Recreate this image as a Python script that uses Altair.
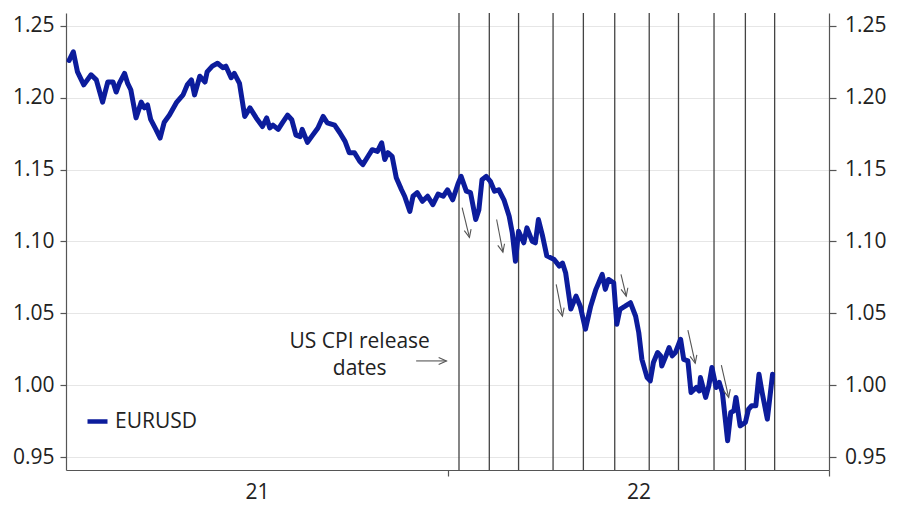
import altair as alt
import pandas as pd

# ---------------- data ----------------
dates = [
    "2021-01-04", "2021-01-08", "2021-01-12", "2021-01-18", "2021-01-25", "2021-01-30",
    "2021-02-05", "2021-02-10", "2021-02-15", "2021-02-18", "2021-02-21", "2021-02-26",
    "2021-03-01", "2021-03-04", "2021-03-09", "2021-03-14", "2021-03-17", "2021-03-20",
    "2021-03-23", "2021-03-28", "2021-04-01", "2021-04-05", "2021-04-10", "2021-04-17",
    "2021-04-23", "2021-04-27", "2021-05-01", "2021-05-04", "2021-05-09", "2021-05-14",
    "2021-05-16", "2021-05-21", "2021-05-26", "2021-05-31", "2021-06-03", "2021-06-08",
    "2021-06-11", "2021-06-16", "2021-06-21", "2021-06-26", "2021-07-02", "2021-07-08",
    "2021-07-12", "2021-07-15", "2021-07-18", "2021-07-23", "2021-07-27", "2021-08-01",
    "2021-08-05", "2021-08-09", "2021-08-13", "2021-08-15", "2021-08-20", "2021-08-25",
    "2021-08-30", "2021-09-04", "2021-09-08", "2021-09-15", "2021-09-20", "2021-09-25",
    "2021-09-29", "2021-10-04", "2021-10-09", "2021-10-12", "2021-10-17", "2021-10-21",
    "2021-10-26", "2021-10-30", "2021-11-02", "2021-11-05", "2021-11-09", "2021-11-13",
    "2021-11-18", "2021-11-21", "2021-11-26", "2021-11-29", "2021-12-03", "2021-12-08",
    "2021-12-13", "2021-12-18", "2021-12-23", "2021-12-28", "2022-01-01", "2022-01-06",
    "2022-01-11", "2022-01-14", "2022-01-19", "2022-01-23", "2022-01-28", "2022-01-31",
    "2022-02-03", "2022-02-07", "2022-02-11", "2022-02-15", "2022-02-19", "2022-02-24",
    "2022-03-01", "2022-03-04", "2022-03-07", "2022-03-10", "2022-03-15", "2022-03-18",
    "2022-03-23", "2022-03-26", "2022-03-29", "2022-04-02", "2022-04-06", "2022-04-13",
    "2022-04-18", "2022-04-21", "2022-04-24", "2022-04-29", "2022-05-04", "2022-05-08",
    "2022-05-13", "2022-05-18", "2022-05-23", "2022-05-29", "2022-06-01", "2022-06-04",
    "2022-06-09", "2022-06-12", "2022-06-15", "2022-06-20", "2022-06-25", "2022-06-30",
    "2022-07-03", "2022-07-06", "2022-07-11", "2022-07-14", "2022-07-17", "2022-07-21",
    "2022-07-24", "2022-07-25", "2022-07-29", "2022-08-01", "2022-08-04", "2022-08-07",
    "2022-08-12", "2022-08-15", "2022-08-19", "2022-08-22", "2022-08-27", "2022-08-30",
    "2022-08-31", "2022-09-05", "2022-09-08", "2022-09-11", "2022-09-15", "2022-09-18",
    "2022-09-21", "2022-09-26", "2022-09-29", "2022-10-02", "2022-10-04", "2022-10-08",
    "2022-10-13", "2022-10-16", "2022-10-19", "2022-10-23", "2022-10-26", "2022-10-29",
    "2022-11-03", "2022-11-08",
]
eurusd = [
    1.226, 1.232, 1.218, 1.209, 1.216, 1.2125,
    1.197, 1.211, 1.211, 1.204, 1.210, 1.217,
    1.210, 1.2056, 1.186, 1.197, 1.193, 1.195,
    1.185, 1.178, 1.172, 1.183, 1.188, 1.197,
    1.202, 1.209, 1.2125, 1.202, 1.215, 1.211,
    1.218, 1.222, 1.224, 1.221, 1.222, 1.214,
    1.217, 1.210, 1.187, 1.193, 1.186, 1.180,
    1.186, 1.179, 1.181, 1.178, 1.1826, 1.188,
    1.1847, 1.174, 1.173, 1.178, 1.169, 1.174,
    1.179, 1.187, 1.1826, 1.181, 1.1757, 1.1697,
    1.1618, 1.1618, 1.1558, 1.1535, 1.1593, 1.1639,
    1.1627, 1.1687, 1.157, 1.1618, 1.1593, 1.1444,
    1.136, 1.1315, 1.121, 1.1315, 1.134, 1.128,
    1.1315, 1.1257, 1.133, 1.1315, 1.136, 1.129,
    1.140, 1.1453, 1.135, 1.134, 1.1153, 1.122,
    1.143, 1.1453, 1.1419, 1.135, 1.136, 1.129,
    1.1176, 1.106, 1.0863, 1.1072, 1.0991, 1.1095,
    1.1002, 1.0991, 1.1153, 1.1037, 1.090, 1.0875,
    1.0829, 1.085, 1.0783, 1.053, 1.062, 1.055,
    1.039, 1.055, 1.0667, 1.0771, 1.0667, 1.0736,
    1.0713, 1.0424, 1.0528, 1.055, 1.0574, 1.048,
    1.0366, 1.018, 1.0053, 1.003, 1.0158, 1.0227,
    1.0204, 1.0134, 1.0204, 1.0262, 1.0204, 1.0227,
    1.032, 1.018, 1.0169, 0.995, 0.9984, 0.996,
    1.0053, 0.9915, 0.9995, 1.0123, 0.9984, 1.0019,
    0.995, 0.9613, 0.981, 0.9822, 0.9915, 0.9717,
    0.9741, 0.9833, 0.9857, 0.9857, 1.0076, 0.995,
    0.9764, 1.0076,
]
series_name = "EURUSD"

cpi_dates = ["2022-01-12", "2022-02-10", "2022-03-10", "2022-04-12", "2022-05-11",
             "2022-06-10", "2022-07-13", "2022-08-10", "2022-09-13", "2022-10-13",
             "2022-11-10"]

arrow_start_dates = ["2022-01-15", "2022-02-17", "2022-04-15", "2022-06-16", "2022-08-19", "2022-09-20"]
arrow_start_vals = [1.1236, 1.1153, 1.0701, 1.0771, 1.0384, 1.0139]
arrow_end_dates = ["2022-01-22", "2022-02-23", "2022-04-21", "2022-06-21", "2022-08-26", "2022-09-27"]
arrow_end_vals = [1.1028, 1.0926, 1.0481, 1.0620, 1.0153, 0.9915]

note_text = ["US CPI release\ndates"]
note_date = ["2021-10-09"]
note_val = [1.0299]
note_arrow_start = ["2021-12-02"]
note_arrow_end = ["2021-12-31"]
note_arrow_val = [1.0169]

y_ticks = [0.95, 1.00, 1.05, 1.10, 1.15, 1.20, 1.25]

# ---------------- style ----------------
FONT = "Open Sans"
BLUE = "#0c1c9c"
AX = "#555555"
TXT = "#222222"
GRID = "#e6e6e6"
FS = 21

df = pd.DataFrame({"date": dates, "value": eurusd, "series": series_name})
cpi_df = pd.DataFrame({"date": cpi_dates})
arr_df = pd.DataFrame({"start": arrow_start_dates, "v0": arrow_start_vals,
                       "end": arrow_end_dates, "v1": arrow_end_vals})
note_df = pd.DataFrame({"date": note_date, "value": note_val, "label": note_text})
note_arr_df = pd.DataFrame({"start": note_arrow_start, "end": note_arrow_end, "v": note_arrow_val})

x_scale = alt.Scale(domain=[alt.DateTime(year=2021, month=1, date=1),
                            alt.DateTime(year=2023, month=1, date=1)])
x_axis = alt.Axis(
    values=[alt.DateTime(year=2021, month=1, date=1),
            alt.DateTime(year=2022, month=1, date=1),
            alt.DateTime(year=2023, month=1, date=1)],
    labelExpr="year(datum.value) < 2023 ? timeFormat(datum.value, '%y') : ''",
    labelOffset=191, labelFlush=False, labelOverlap=False, labelBound=False,
    tickSize=6, tickColor=AX, domainColor=AX, tickWidth=1.2, domainWidth=1.2,
    tickOpacity={"condition": {"test": "year(datum.value) == 2021", "value": 0}, "value": 1},
    labelFontSize=FS, labelFont=FONT, labelColor=TXT, labelPadding=5,
    grid=False, title=None,
)
y_scale = alt.Scale(domain=[0.941, 1.259], nice=False, zero=False)
left_axis = alt.Axis(
    orient="left", values=y_ticks, format=".2f", title=None,
    tickSize=6, tickColor=AX, domainColor=AX, tickWidth=1.2, domainWidth=1.2,
    labelFontSize=FS, labelFont=FONT, labelColor=TXT, labelPadding=6,
    grid=True, gridColor=GRID, gridWidth=1.2,
)
right_axis = alt.Axis(
    orient="right", values=y_ticks, format=".2f", title=None,
    tickSize=7, tickColor=AX, domainColor=AX, tickWidth=1.2, domainWidth=1.2,
    labelFontSize=FS, labelFont=FONT, labelColor=TXT, labelAlign="right",
    labelPadding=50, grid=False,
)

cpi = alt.Chart(cpi_df).mark_rule(color="#444444", strokeWidth=1.3).encode(
    x=alt.X("date:T", scale=x_scale, axis=x_axis)
)

line = alt.Chart(df).mark_line(strokeWidth=5, strokeJoin="round", strokeCap="round").encode(
    x=alt.X("date:T", scale=x_scale, axis=x_axis),
    y=alt.Y("value:Q", scale=y_scale, axis=left_axis),
    color=alt.Color("series:N", scale=alt.Scale(domain=[series_name], range=[BLUE]),
                    legend=alt.Legend(orient="none", legendX=19, legendY=396, title=None,
                                      symbolType="stroke", symbolStrokeWidth=4.5,
                                      symbolSize=400, labelFontSize=FS, labelFont=FONT,
                                      labelColor=TXT, padding=0, labelOffset=5)),
)

shafts = alt.Chart(arr_df).mark_rule(color="#555555", strokeWidth=1.1).encode(
    x=alt.X("start:T", scale=x_scale, axis=x_axis),
    x2="end:T",
    y=alt.Y("v0:Q", scale=y_scale, axis=right_axis),
    y2="v1:Q",
)
CHEVRON = "M -0.4 -0.9 L 0 0 L 0.4 -0.9"
heads = alt.Chart(arr_df).mark_point(shape=CHEVRON, filled=False, color="#555555",
                                      strokeWidth=1.1, size=300, angle=347, opacity=1).encode(
    x=alt.X("end:T", scale=x_scale, axis=x_axis),
    y=alt.Y("v1:Q", scale=y_scale, axis=None),
)

note = alt.Chart(note_df).mark_text(fontSize=FS, font=FONT, color=TXT, lineBreak="\n",
                                    lineHeight=27, align="center", baseline="middle").encode(
    x=alt.X("date:T", scale=x_scale, axis=x_axis),
    y=alt.Y("value:Q", scale=y_scale, axis=None),
    text="label:N",
)
note_shaft = alt.Chart(note_arr_df).mark_rule(color="#555555", strokeWidth=1.1).encode(
    x=alt.X("start:T", scale=x_scale, axis=x_axis),
    x2="end:T",
    y=alt.Y("v:Q", scale=y_scale, axis=None),
)
note_head = alt.Chart(note_arr_df).mark_point(shape=CHEVRON, filled=False, color="#555555",
                                              strokeWidth=1.1, size=300, angle=270, opacity=1).encode(
    x=alt.X("end:T", scale=x_scale, axis=x_axis),
    y=alt.Y("v:Q", scale=y_scale, axis=None),
)

chart = alt.layer(cpi, line, shafts, heads, note, note_shaft, note_head).resolve_scale(
    y="independent"
).properties(
    width=763, height=457,
    padding={"left": 58, "top": 5, "right": 60, "bottom": 35},
    autosize=alt.AutoSizeParams(type="none"),
    background="white",
).configure_view(stroke=None)

chart.save("out.html", embed_options={"renderer": "svg", "actions": False})
